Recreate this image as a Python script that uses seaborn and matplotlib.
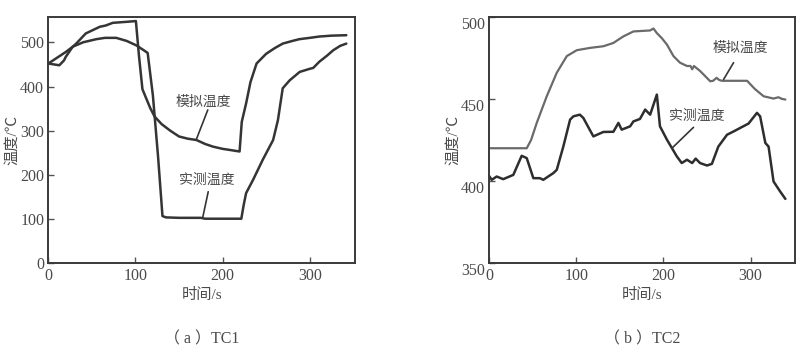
import numpy as np
import pandas as pd
import matplotlib
matplotlib.use("Agg")
import matplotlib.pyplot as plt
import seaborn as sns

# ---------------- data ----------------
# Panel (a) TC1
tc1_sim_t = [0, 12.6, 18, 20, 28, 32, 43, 59, 66, 74, 88, 100.5, 104, 108, 113, 117, 122, 130, 140,
             150, 160, 170, 180, 189, 200, 210, 219.5, 222, 227, 232, 239, 250, 260, 269, 280,
             288, 300, 311, 325, 342]
tc1_sim_T = [452, 448, 459, 467, 490, 497, 520, 535, 538, 544, 546, 548, 470, 394, 370, 351, 332, 315, 300,
             287, 282, 279, 270, 264, 259, 256, 253, 320, 362, 410, 452, 474, 487, 497, 503,
             507, 510, 513, 515, 516]
tc1_mea_t = [0, 10, 20, 28, 40, 55, 65, 78, 90, 101, 108, 114, 120, 126, 131, 135, 150, 175, 180, 200,
             221.5, 224, 227, 235, 246, 258, 263.5, 269, 277, 288.5, 300, 304, 311, 320, 327, 335, 342]
tc1_mea_T = [452, 465, 478, 490, 500, 507, 510, 510, 503, 493, 484, 476, 380, 240, 107, 104, 103, 103, 101, 101,
             101, 130, 159, 189, 234, 279, 324, 396, 414, 433, 440, 442, 456, 470, 482, 492, 497]

# Panel (b) TC2
tc2_sim_t = [0, 43, 48, 54.5, 66, 77.5, 89, 100.5, 115.7, 131, 142.5, 154, 165.5, 184.7, 188.5, 192.4,
             198, 204, 211.5, 219, 227, 231, 233, 235, 242, 253.7, 257, 261, 264, 267, 296, 305,
             315, 326.4, 332, 336, 340]
tc2_sim_T = [420, 420, 425, 435.4, 451.6, 465.9, 476, 479.6, 481, 482, 484, 488, 491, 491.6, 492.8, 490,
             487, 483, 476, 472, 470, 470, 468, 470, 467, 460.7, 461, 462.8, 461.5, 461, 461, 456,
             451.6, 450.2, 451, 450, 449.6]
tc2_mea_t = [0, 2.8, 8.5, 16, 27.6, 37.2, 43, 50.6, 58, 62, 73.6, 77.5, 85, 92.8, 96.6, 104, 108, 119.5,
             131, 142.5, 148.3, 152, 161.7, 165.5, 173, 179, 184.7, 192.4, 196, 204, 215.4, 221, 227,
             233, 237, 242, 250, 255.6, 263, 273, 280.5, 288, 297.7, 307.4, 311, 317, 320.7, 326.4,
             334, 340]
tc2_mea_T = [403, 400.8, 402.8, 401.2, 403.8, 415.4, 414, 401.8, 401.8, 400.8, 404.9, 406.9, 421, 437.4,
             439.4, 440.4, 438.4, 427.2, 429.9, 430, 435.4, 431.3, 433.3, 436.3, 437.8, 443.5, 440.4,
             452.6, 433.3, 425.2, 415, 411, 413, 411, 413.7, 411, 409.5, 410.5, 421, 428.2, 430.2,
             432.3, 435, 441.5, 439.4, 423.2, 421, 399.8, 393.7, 389.2]

xlabel = "时间/s"
ylabel = "温度/℃"
sim_label = "模拟温度"
mea_label = "实测温度"
captions = ["（ a ）TC1", "（ b ）TC2"]
tc1_yticks = [0, 100, 200, 300, 400, 500]
tc2_yticks = [350, 400, 450, 500]
xticks = [0, 100, 200, 300]

# ---------------- styling ----------------
sns.set_style("ticks")
plt.rcParams["font.family"] = ["Liberation Serif", "Noto Sans CJK SC", "DejaVu Sans"]
plt.rcParams["axes.unicode_minus"] = False

text_col = "#4a4a4a"
line_col = "#353535"
fig = plt.figure(figsize=(8.0, 3.54), dpi=100)
ax1 = fig.add_axes([0.0604, 0.256, 0.3834, 0.697])
ax2 = fig.add_axes([0.6116, 0.256, 0.3821, 0.697])

df1s = pd.DataFrame({"t": tc1_sim_t, "T": tc1_sim_T})
df1m = pd.DataFrame({"t": tc1_mea_t, "T": tc1_mea_T})
df2s = pd.DataFrame({"t": tc2_sim_t, "T": tc2_sim_T})
df2m = pd.DataFrame({"t": tc2_mea_t, "T": tc2_mea_T})

sns.lineplot(data=df1s, x="t", y="T", ax=ax1, color=line_col, lw=1.8, sort=False)
sns.lineplot(data=df1m, x="t", y="T", ax=ax1, color=line_col, lw=1.8, sort=False)
sns.lineplot(data=df2s, x="t", y="T", ax=ax2, color="#6a6a6a", lw=1.6, sort=False)
sns.lineplot(data=df2m, x="t", y="T", ax=ax2, color="#2e2e2e", lw=1.8, sort=False)

ax1.set_xlim(0, 352)
ax1.set_ylim(0, 558)
ax1.set_yticks(tc1_yticks)
ax2.set_xlim(0, 351)
ax2.set_ylim(350, 500)
ax2.set_yticks(tc2_yticks)

for ax, cap in zip((ax1, ax2), captions):
    ax.set_xticks(xticks)
    ax.tick_params(direction="in", length=4, width=1, colors="#555555",
                   labelcolor=text_col, labelsize=11.5, pad=3)
    for s in ax.spines.values():
        s.set_color("#3a3a3a")
        s.set_linewidth(1.4)
    ax.set_xlabel(xlabel, fontsize=11, color=text_col, labelpad=3)
    ax.set_ylabel(ylabel, fontsize=11, color=text_col, labelpad=1)
    ax.text(0.5, -0.31, cap, transform=ax.transAxes, ha="center", va="center",
            fontsize=11.5, color=text_col)

for lab in ax2.get_yticklabels():
    lab.set_verticalalignment("top")
ax2.yaxis.set_tick_params(pad=3)

# annotations panel a
ax1.text(177.4, 365, sim_label, ha="center", va="center", fontsize=10, color=text_col)
ax1.plot([183, 170], [347, 281], color=line_col, lw=1.2)
ax1.text(181.6, 188.5, mea_label, ha="center", va="center", fontsize=10, color=text_col)
ax1.plot([183.5, 177], [162, 102], color=line_col, lw=1.2)

# annotations panel b
ax2.text(288, 481, sim_label, ha="center", va="center", fontsize=10, color=text_col)
ax2.plot([280.5, 269], [472, 461.8], color=line_col, lw=1.2)
ax2.text(238, 439.4, mea_label, ha="center", va="center", fontsize=10, color=text_col)
ax2.plot([234.5, 209.7], [432.7, 420], color=line_col, lw=1.2)

fig.savefig("out.png", dpi=100, facecolor="white")
